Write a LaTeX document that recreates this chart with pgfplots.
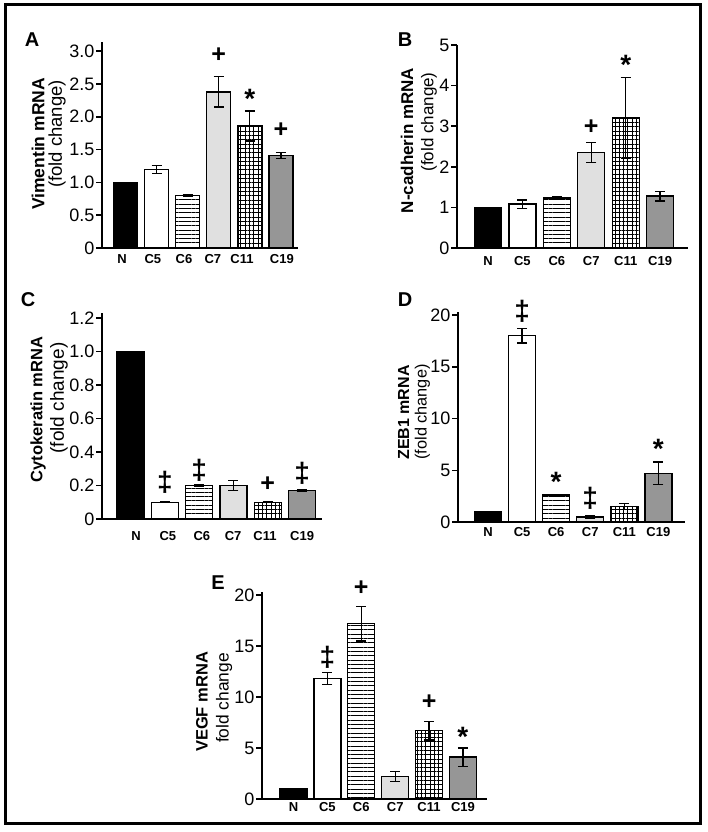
\documentclass[border=0pt]{standalone}
\usepackage{fontspec}
\setmainfont{Liberation Sans}
\usepackage{pgfplots}
\pgfplotsset{compat=1.18}
\usetikzlibrary{patterns.meta}

\definecolor{lgray}{HTML}{E0E0E0}
\definecolor{mgray}{HTML}{969696}

\pgfplotsset{
 panel/.style={scale only axis, anchor=south west,
   axis x line*=bottom, axis y line*=left,
   axis line style={-, line width=1.8pt},
   ymin=0, xtick style={draw=none},
   ytick style={line width=1.5pt, black},
   tick align=outside, major tick length=6pt,
   yticklabel style={font=\fontsize{18}{18}\selectfont, inner sep=1.5pt},
   xticklabel style={font=\bfseries\fontsize{13}{13}\selectfont},
   clip=false},
 b/.style={ybar, bar shift=0pt, draw=black, line width=1.4pt,
   error bars/y dir=both, error bars/y explicit,
   error bars/error bar style={line width=1.3pt,black,solid},
   error bars/error mark options={rotate=90, mark size=5pt, line width=1.3pt, black}},
 ann/.style={draw=none, mark=none, nodes near coords, point meta=explicit symbolic,
   nodes near coords style={anchor=center, font=#1}},
}
\newcommand{\fplus}{\bfseries\fontsize{25}{25}\selectfont}
\newcommand{\fstar}{\bfseries\fontsize{28}{28}\selectfont}
\newcommand{\fdd}{\bfseries\fontsize{28}{28}\selectfont}
\tikzset{yl/.style={rotate=90, inner sep=0pt, font=\bfseries\fontsize{#1}{#1}\selectfont},
         yl2/.style={rotate=90, inner sep=0pt, font=\fontsize{#1}{#1}\selectfont}}

\begin{document}
\begin{tikzpicture}[x=1pt,y=1pt]
\path[use as bounding box] (0,0) rectangle (707,832);
\draw[line width=3pt] (5,827) rectangle (700,8);

\node[font=\bfseries\fontsize{20}{20}\selectfont] at (32,792) {A};
\node[font=\bfseries\fontsize{20}{20}\selectfont] at (405,792) {B};
\node[font=\bfseries\fontsize{20}{20}\selectfont] at (28,532) {C};
\node[font=\bfseries\fontsize{20}{20}\selectfont] at (405,532) {D};
\node[font=\bfseries\fontsize{20}{20}\selectfont] at (218,249) {E};

% y-axis titles (px centres, y flipped)
\node[yl=17.5] at (38,688) {Vimentin mRNA};
\node[yl2=18.5] at (57,698) {(fold change)};
\node[yl=17] at (407,691.5) {N-cadherin mRNA};
\node[yl2=17] at (429,710) {(fold change)};
\node[yl=16.5] at (38,422.5) {Cytokeratin mRNA};
\node[yl2=19] at (59,434) {(fold change)};
\node[yl=16] at (403.5,419.5) {ZEB1 mRNA};
\node[yl2=16.3] at (422.5,420) {(fold change)};
\node[yl=16.5] at (202,130) {VEGF mRNA};
\node[yl2=17.4] at (224,134) {fold change};

% ---------------- A
\begin{axis}[panel, at={(102pt,584pt)}, width=196pt, height=206pt,
  xmin=-0.756, xmax=5.55, ymax=3.14, bar width=24pt,
  ytick={0,0.5,1,1.5,2,2.5,3}, yticklabels={0,0.5,1.0,1.5,2.0,2.5,3.0},
  xtick={-0.11,0.88,1.88,2.81,3.75,5.03}, xticklabels={N,C5,C6,C7,C11,C19},
  xticklabel style={yshift=3pt}]
\addplot[b, fill=black] coordinates {(0,1.0)};
\addplot[b, fill=white] coordinates {(1,1.2) +- (0,0.06)};
\addplot[b, pattern={Lines[angle=0,distance=4.3pt,line width=0.9pt]}] coordinates {(2,0.8) +- (0,0.012)};
\addplot[b, fill=lgray] coordinates {(3,2.38) +- (0,0.23)};
\addplot[b, pattern={Hatch[angle=0,distance=4.3pt,line width=0.75pt]}] coordinates {(4,1.86) +- (0,0.23)};
\addplot[b, fill=mgray] coordinates {(5,1.41) +- (0,0.05)};
\addplot[ann=\fplus] coordinates {(3,2.94)[+] (5,1.80)[+]};
\addplot[ann=\fstar] coordinates {(4,2.27)[*]};
\end{axis}

% ---------------- B
\begin{axis}[panel, at={(457pt,584pt)}, width=231pt, height=203pt,
  xmin=-0.90, xmax=5.81, ymax=5, bar width=27pt,
  ytick={0,1,2,3,4,5}, yticklabels={0,1,2,3,4,5},
  xtick={0,1,2,3,4,5}, xticklabels={N,C5,C6,C7,C11,C19},
  xticklabel style={yshift=1pt}]
\addplot[b, fill=black] coordinates {(0,1.0)};
\addplot[b, fill=white] coordinates {(1,1.08) +- (0,0.1)};
\addplot[b, pattern={Lines[angle=0,distance=4.3pt,line width=0.9pt]}] coordinates {(2,1.23) +- (0,0.03)};
\addplot[b, fill=lgray] coordinates {(3,2.35) +- (0,0.25)};
\addplot[b, pattern={Hatch[angle=0,distance=4.3pt,line width=0.75pt]}] coordinates {(4,3.2) +- (0,1.0)};
\addplot[b, fill=mgray] coordinates {(5,1.28) +- (0,0.12)};
\addplot[ann=\fplus] coordinates {(3,2.98)[+]};
\addplot[ann=\fstar] coordinates {(4,4.5)[*]};
\end{axis}

% ---------------- C
\begin{axis}[panel, at={(102pt,313pt)}, width=220pt, height=206pt,
  xmin=-0.83, xmax=5.58, ymax=1.23, bar width=27pt,
  ytick={0,0.2,0.4,0.6,0.8,1.0,1.2}, yticklabels={0,0.2,0.4,0.6,0.8,1.0,1.2},
  xtick={0.16,1.09,2.08,2.99,3.92,5.0}, xticklabels={N,C5,C6,C7,C11,C19},
  xticklabel style={yshift=-3pt}]
\addplot[b, fill=black] coordinates {(0,1.0)};
\addplot[b, fill=white] coordinates {(1,0.1) +- (0,0.003)};
\addplot[b, pattern={Lines[angle=0,distance=4.3pt,line width=0.9pt]}] coordinates {(2,0.2) +- (0,0.005)};
\addplot[b, fill=lgray] coordinates {(3,0.2) +- (0,0.03)};
\addplot[b, pattern={Hatch[angle=0,distance=4.3pt,line width=0.75pt]}] coordinates {(4,0.1) +- (0,0.002)};
\addplot[b, fill=mgray] coordinates {(5,0.17) +- (0,0.005)};
\addplot[ann=\fdd] coordinates {(1,0.22)[‡] (2,0.29)[‡] (5,0.275)[‡]};
\addplot[ann=\fplus] coordinates {(4,0.21)[+]};
\end{axis}

% ---------------- D
\begin{axis}[panel, at={(458pt,310pt)}, width=227pt, height=210pt,
  xmin=-0.88, xmax=5.78, ymax=20.3, bar width=27pt,
  ytick={0,5,10,15,20}, yticklabels={0,5,10,15,20},
  xtick={0,1,2,3,4,5}, xticklabels={N,C5,C6,C7,C11,C19},
  xticklabel style={yshift=4pt}]
\addplot[b, fill=black] coordinates {(0,1.0)};
\addplot[b, fill=white] coordinates {(1,18.0) +- (0,0.7)};
\addplot[b, pattern={Lines[angle=0,distance=4.3pt,line width=0.9pt]}] coordinates {(2,2.6) +- (0,0.08)};
\addplot[b, fill=lgray] coordinates {(3,0.5) +- (0,0.1)};
\addplot[b, pattern={Hatch[angle=0,distance=4.3pt,line width=0.75pt]}] coordinates {(4,1.5) +- (0,0.3)};
\addplot[b, fill=mgray] coordinates {(5,4.7) +- (0,1.1)};
\addplot[ann=\fdd] coordinates {(1,20.4)[‡] (3,2.3)[‡]};
\addplot[ann=\fstar] coordinates {(2,3.9)[*] (5,7.1)[*]};
\end{axis}

% ---------------- E
\begin{axis}[panel, at={(262pt,33pt)}, width=225pt, height=207pt,
  xmin=-0.93, xmax=5.71, ymax=20.3, bar width=27pt,
  ytick={0,5,10,15,20}, yticklabels={0,5,10,15,20},
  xtick={0,1,2,3,4,5}, xticklabels={N,C5,C6,C7,C11,C19},
  xticklabel style={yshift=6pt}]
\addplot[b, fill=black] coordinates {(0,1.0)};
\addplot[b, fill=white] coordinates {(1,11.8) +- (0,0.6)};
\addplot[b, pattern={Lines[angle=0,distance=4.3pt,line width=0.9pt]}] coordinates {(2,17.2) +- (0,1.7)};
\addplot[b, fill=lgray] coordinates {(3,2.2) +- (0,0.5)};
\addplot[b, pattern={Hatch[angle=0,distance=4.3pt,line width=0.75pt]}] coordinates {(4,6.7) +- (0,0.9)};
\addplot[b, fill=mgray] coordinates {(5,4.1) +- (0,0.9)};
\addplot[ann=\fdd] coordinates {(1,13.9)[‡]};
\addplot[ann=\fplus] coordinates {(2,20.7)[+] (4,9.5)[+]};
\addplot[ann=\fstar] coordinates {(5,6.1)[*]};
\end{axis}
\end{tikzpicture}
\end{document}
